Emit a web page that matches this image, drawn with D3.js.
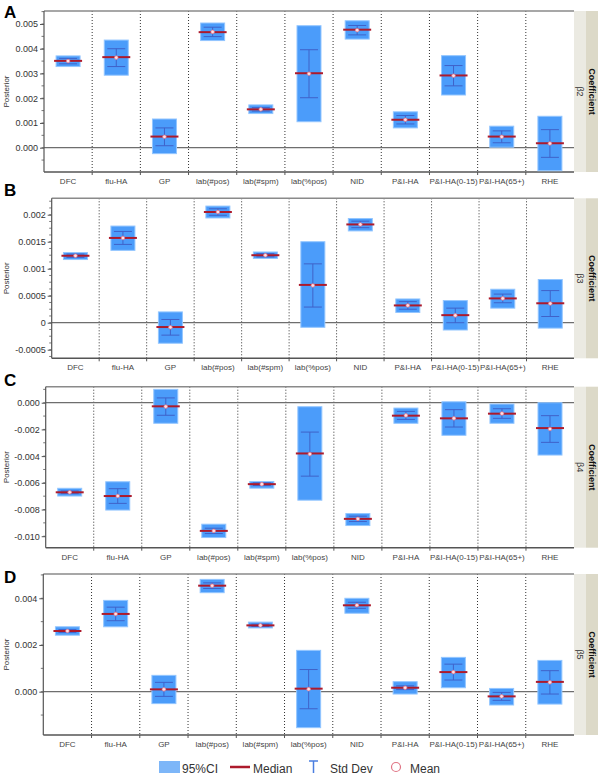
<!DOCTYPE html>
<html><head><meta charset="utf-8">
<script src="https://cdn.jsdelivr.net/npm/d3@7"></script>
<style>body{margin:0;background:#fff} svg{display:block;font-family:Arial,"Liberation Sans",sans-serif}</style>
</head><body><svg id="c" width="600" height="775"></svg>
<script>
const categories = ["DFC","flu-HA","GP","lab(#pos)","lab(#spm)","lab(%pos)","NID","P&I-HA","P&I-HA(0-15)","P&I-HA(65+)","RHE"];

// beta2
const b2Low    = [0.00328, 0.00293, -0.00024, 0.00433, 0.00138, 0.00105, 0.00439, 0.00080, 0.00213, 0.00002, -0.00093];
const b2High   = [0.00371, 0.00435, 0.00116, 0.00504, 0.00173, 0.00493, 0.00513, 0.00145, 0.00372, 0.00087, 0.00127];
const b2Median = [0.00351, 0.00366, 0.00045, 0.00467, 0.00155, 0.00301, 0.00477, 0.00113, 0.00292, 0.00045, 0.00018];
const b2Mean   = [0.00350, 0.00364, 0.00044, 0.00468, 0.00155, 0.00299, 0.00475, 0.00113, 0.00291, 0.00044, 0.00017];
const b2Sd     = [0.00011, 0.00036, 0.00036, 0.00019, 0.00007, 0.00097, 0.00019, 0.00017, 0.00041, 0.00024, 0.00056];
// beta3
const b3Low    = [0.00117, 0.00134, -0.00038, 0.00194, 0.00119, -0.000085, 0.00170, 0.00019, -0.000135, 0.00027, -0.00010];
const b3High   = [0.00130, 0.00179, 0.00020, 0.00216, 0.00131, 0.00150, 0.00193, 0.00044, 0.00041, 0.00062, 0.00080];
const b3Median = [0.00124, 0.00157, -0.00008, 0.00205, 0.00125, 0.00070, 0.00182, 0.00032, 0.00014, 0.00045, 0.00036];
const b3Mean   = [0.00124, 0.00157, -0.000085, 0.00205, 0.00125, 0.00069, 0.00182, 0.00032, 0.000135, 0.00045, 0.000355];
const b3Sd     = [0.00003, 0.00012, 0.000145, 0.00006, 0.00003, 0.00040, 0.00006, 0.00007, 0.000135, 0.00008, 0.00024];
// beta4
const b4Low    = [-0.00699, -0.00804, -0.00154, -0.0101, -0.0064, -0.0073, -0.0092, -0.00154, -0.00244, -0.00154, -0.00392];
const b4High   = [-0.00641, -0.00592, 0.0010, -0.0091, -0.0059, -0.0003, -0.0083, -0.00040, 0.00007, -0.00010, 0.0000];
const b4Median = [-0.00671, -0.00699, -0.00027, -0.0096, -0.0061, -0.0038, -0.0087, -0.00097, -0.00117, -0.00082, -0.0019];
const b4Mean   = [-0.00671, -0.00699, -0.00029, -0.0096, -0.0061, -0.00385, -0.0087, -0.00095, -0.00117, -0.00081, -0.00197];
const b4Sd     = [0.0001, 0.00055, 0.00065, 0.0002, 0.0001, 0.00165, 0.0002, 0.0003, 0.00065, 0.00036, 0.0010];
// beta5
const b5Low    = [0.00242, 0.00278, -0.00051, 0.00424, 0.00273, -0.00154, 0.00336, -0.00010, 0.00017, -0.00057, -0.00053];
const b5High   = [0.00278, 0.00391, 0.00070, 0.00481, 0.00298, 0.00177, 0.00400, 0.00043, 0.00147, 0.00014, 0.00134];
const b5Median = [0.00260, 0.00333, 0.00010, 0.00454, 0.00284, 0.00013, 0.00370, 0.00017, 0.00084, -0.00020, 0.00042];
const b5Mean   = [0.00260, 0.00333, 0.00010, 0.00454, 0.00284, 0.00011, 0.00370, 0.00017, 0.00084, -0.00020, 0.00040];
const b5Sd     = [0.00006, 0.00029, 0.00030, 0.00012, 0.00005, 0.00084, 0.00013, 0.00008, 0.00034, 0.00017, 0.00050];

// y-axis ticks and labels
const b2Ticks = [0, 0.001, 0.002, 0.003, 0.004, 0.005];
const b2TickLabels = ["0.000","0.001","0.002","0.003","0.004","0.005"];
const b3Ticks = [-0.0005, 0, 0.0005, 0.001, 0.0015, 0.002];
const b3TickLabels = ["-0.0005","0","0.0005","0.001","0.0015","0.002"];
const b4Ticks = [-0.010, -0.008, -0.006, -0.004, -0.002, 0];
const b4TickLabels = ["-0.010","-0.008","-0.006","-0.004","-0.002","0.000"];
const b5Ticks = [0, 0.002, 0.004];
const b5TickLabels = ["0.000","0.002","0.004"];

const legendLabels = ["95%CI","Median","Std Dev","Mean"];

const panels = [
  {letter:"A", beta:"β2", low:b2Low, high:b2High, median:b2Median, mean:b2Mean, sd:b2Sd, ticks:b2Ticks, labels:b2TickLabels, minor:0.0005, domain:[-0.000982,0.005525], top:11, h:161, left:44, letterY:18.3},
  {letter:"B", beta:"β3", low:b3Low, high:b3High, median:b3Median, mean:b3Mean, sd:b3Sd, ticks:b3Ticks, labels:b3TickLabels, minor:0.000125, domain:[-0.000659,0.002304], top:198.3, h:160, left:51.7, letterY:195.5},
  {letter:"C", beta:"β4", low:b4Low, high:b4High, median:b4Median, mean:b4Mean, sd:b4Sd, ticks:b4Ticks, labels:b4TickLabels, minor:0.001, domain:[-0.01086,0.0012], top:386.7, h:161, left:45.7, letterY:385.7},
  {letter:"D", beta:"β5", low:b5Low, high:b5High, median:b5Median, mean:b5Mean, sd:b5Sd, ticks:b5Ticks, labels:b5TickLabels, minor:0.001, domain:[-0.001854,0.00504], top:574, h:161, left:43.3, letterY:583.3}
];

const svg = d3.select("#c");
const RIGHT = 574, STRIP = 24;
const BOXW = 24, MEDW = 28, CAPW = 18;
const C_BOX = "#4b9cfa", C_BOXS = "#93c6ff", C_MED = "#ad1a2c", C_SD = "#3f62c9", C_MEAN = "#e7798a";

panels.forEach(p => {
  const g = svg.append("g");
  const bottom = p.top + p.h;
  const x = d3.scaleBand().domain(categories).range([p.left, RIGHT]).padding(0);
  const y = d3.scaleLinear().domain(p.domain).range([bottom, p.top]);

  // panel letter
  svg.append("text").attr("x", 4).attr("y", p.letterY).attr("font-size", 17).attr("font-weight", "bold").attr("fill", "#000").text(p.letter);

  // strip
  g.append("rect").attr("x", RIGHT).attr("y", p.top).attr("width", STRIP/2).attr("height", p.h).attr("fill", "#ebeae2");
  g.append("rect").attr("x", RIGHT + STRIP/2).attr("y", p.top).attr("width", STRIP/2).attr("height", p.h).attr("fill", "#dcd9c8");
  const cy = p.top + p.h/2;
  g.append("text").attr("transform", `translate(${RIGHT + 3},${cy}) rotate(90)`).attr("text-anchor","middle").attr("font-size", 9).attr("fill","#333").text(p.beta);
  g.append("text").attr("transform", `translate(${RIGHT + STRIP/2 + 3},${cy}) rotate(90)`).attr("text-anchor","middle").attr("font-size", 9).attr("font-weight","bold").attr("fill","#111").text("Coefficient");

  // dotted dividers
  const divs = categories.slice(1).map(c => x(c));
  g.selectAll(".div").data(divs).join("line")
    .attr("x1", d => d).attr("x2", d => d).attr("y1", p.top).attr("y2", bottom)
    .attr("stroke", "#333").attr("stroke-width", 1).attr("stroke-dasharray", "1,2");
  // bottom ticks at dividers
  g.selectAll(".bt").data(divs).join("line")
    .attr("x1", d => d).attr("x2", d => d).attr("y1", bottom).attr("y2", bottom + 3)
    .attr("stroke", "#555").attr("stroke-width", 1);

  // zero line
  g.append("line").attr("x1", p.left).attr("x2", RIGHT).attr("y1", y(0)).attr("y2", y(0)).attr("stroke", "#6e6e6e").attr("stroke-width", 1.3);

  // frame
  g.append("line").attr("x1", p.left).attr("x2", RIGHT).attr("y1", p.top).attr("y2", p.top).attr("stroke", "#8a8a8a").attr("stroke-width", 1.6);
  g.append("line").attr("x1", p.left).attr("x2", RIGHT).attr("y1", bottom).attr("y2", bottom).attr("stroke", "#555").attr("stroke-width", 1.6);
  g.append("line").attr("x1", p.left).attr("x2", p.left).attr("y1", p.top).attr("y2", bottom).attr("stroke", "#555").attr("stroke-width", 1.2);

  // y axis ticks
  const minorTicks = d3.range(Math.ceil(p.domain[0]/p.minor), Math.floor(p.domain[1]/p.minor) + 1).map(k => k * p.minor);
  g.selectAll(".mt").data(minorTicks).join("line")
    .attr("x1", p.left - 2.5).attr("x2", p.left).attr("y1", d => y(d)).attr("y2", d => y(d))
    .attr("stroke", "#555").attr("stroke-width", 0.8);
  const axis = d3.axisLeft(y).tickValues(p.ticks).tickFormat((d,i) => p.labels[i]).tickSize(4).tickPadding(2);
  const ag = g.append("g").attr("transform", `translate(${p.left},0)`).call(axis);
  ag.select(".domain").remove();
  ag.selectAll(".tick line").attr("stroke", "#555");
  ag.selectAll(".tick text").attr("font-size", 9).attr("fill", "#333").attr("font-family", "Arial, 'Liberation Sans', sans-serif");

  // y title
  g.append("text").attr("transform", `translate(9,${cy}) rotate(-90)`).attr("text-anchor","middle").attr("font-size", 8).attr("fill","#333").text("Posterior");

  // category labels
  g.selectAll(".cl").data(categories).join("text")
    .attr("x", d => x(d) + x.bandwidth()/2).attr("y", bottom + 12)
    .attr("text-anchor", "middle").attr("font-size", 8).attr("fill", "#444").text(d => d);

  const idx = categories.map((c,i) => i);
  const cx = i => x(categories[i]) + x.bandwidth()/2;
  // CI boxes
  g.selectAll(".box").data(idx).join("rect")
    .attr("x", i => cx(i) - BOXW/2).attr("width", BOXW)
    .attr("y", i => y(p.high[i])).attr("height", i => y(p.low[i]) - y(p.high[i]))
    .attr("fill", C_BOX).attr("stroke", C_BOXS).attr("stroke-width", 1);
  // std dev
  idx.forEach(i => {
    const y1 = y(p.mean[i] + p.sd[i]), y2 = y(p.mean[i] - p.sd[i]);
    g.append("line").attr("x1", cx(i)).attr("x2", cx(i)).attr("y1", y1).attr("y2", y2).attr("stroke", C_SD).attr("stroke-width", 1);
    [y1, y2].forEach(yy => g.append("line").attr("x1", cx(i) - CAPW/2).attr("x2", cx(i) + CAPW/2).attr("y1", yy).attr("y2", yy).attr("stroke", C_SD).attr("stroke-width", 1));
  });
  // median
  g.selectAll(".med").data(idx).join("line")
    .attr("x1", i => cx(i) - MEDW/2).attr("x2", i => cx(i) + MEDW/2)
    .attr("y1", i => y(p.median[i])).attr("y2", i => y(p.median[i]))
    .attr("stroke", C_MED).attr("stroke-width", 2);
  // mean
  g.selectAll(".mean").data(idx).join("circle")
    .attr("cx", i => cx(i)).attr("cy", i => y(p.mean[i])).attr("r", 1.8)
    .attr("fill", "#ffe0e4").attr("stroke", C_MEAN).attr("stroke-width", 0.7);
});

// legend
const lg = svg.append("g").attr("font-size", 12).attr("fill", "#333");
lg.append("rect").attr("x", 159).attr("y", 761).attr("width", 21).attr("height", 12).attr("fill", "#7db6f8");
lg.append("text").attr("x", 182).attr("y", 773).text(legendLabels[0]);
lg.append("line").attr("x1", 230).attr("x2", 250).attr("y1", 767).attr("y2", 767).attr("stroke", C_MED).attr("stroke-width", 2.5);
lg.append("text").attr("x", 253).attr("y", 773).text(legendLabels[1]);
lg.append("line").attr("x1", 309).attr("x2", 318).attr("y1", 761).attr("y2", 761).attr("stroke", "#4a7ee0").attr("stroke-width", 1.5);
lg.append("line").attr("x1", 313.5).attr("x2", 313.5).attr("y1", 761).attr("y2", 773).attr("stroke", "#4a7ee0").attr("stroke-width", 1.5);
lg.append("text").attr("x", 330).attr("y", 773).text(legendLabels[2]);
lg.append("circle").attr("cx", 396).attr("cy", 767).attr("r", 4.5).attr("fill", "none").attr("stroke", "#e07585").attr("stroke-width", 1.2);
lg.append("text").attr("x", 410).attr("y", 773).text(legendLabels[3]);
</script></body></html>
